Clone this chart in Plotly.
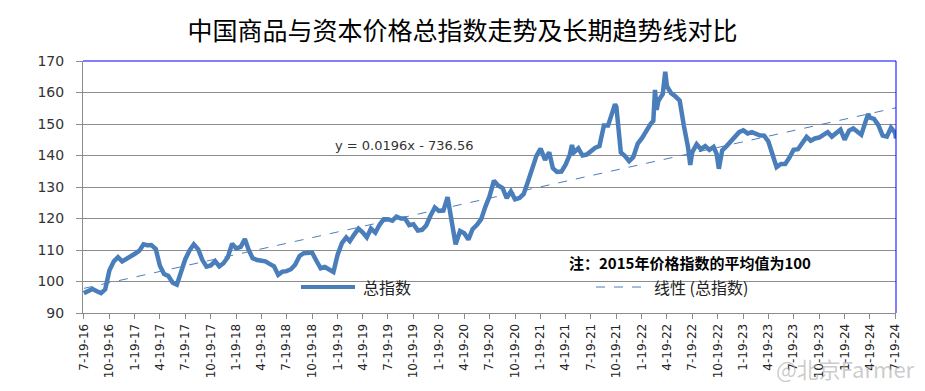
import datetime as dt
import plotly.graph_objects as go

# ---------------- data ----------------
dates = [
    "2016-07-19", "2016-08-04", "2016-08-19", "2016-09-04", "2016-09-19", "2016-10-04", "2016-10-19", "2016-11-04",
    "2016-11-19", "2016-12-04", "2016-12-19", "2017-01-04", "2017-01-19", "2017-02-04", "2017-02-19", "2017-03-04",
    "2017-03-19", "2017-04-04", "2017-04-19", "2017-05-04", "2017-05-19", "2017-06-04", "2017-06-19", "2017-07-04",
    "2017-07-19", "2017-08-04", "2017-08-19", "2017-09-04", "2017-09-19", "2017-10-04", "2017-10-19", "2017-11-04",
    "2017-11-19", "2017-12-04", "2017-12-19", "2018-01-04", "2018-01-19", "2018-02-04", "2018-02-19", "2018-03-04",
    "2018-03-19", "2018-04-04", "2018-04-19", "2018-05-04", "2018-05-19", "2018-06-04", "2018-06-19", "2018-07-04",
    "2018-07-19", "2018-08-04", "2018-08-19", "2018-09-04", "2018-09-19", "2018-10-04", "2018-10-19", "2018-11-04",
    "2018-11-19", "2018-12-04", "2018-12-19", "2019-01-04", "2019-01-19", "2019-02-04", "2019-02-19", "2019-03-04",
    "2019-03-19", "2019-04-04", "2019-04-19", "2019-05-04", "2019-05-19", "2019-06-04", "2019-06-19", "2019-07-04",
    "2019-07-19", "2019-08-04", "2019-08-19", "2019-09-04", "2019-09-19", "2019-10-04", "2019-10-19", "2019-11-04",
    "2019-11-19", "2019-12-04", "2019-12-19", "2020-01-04", "2020-01-19", "2020-02-04", "2020-02-19", "2020-03-04",
    "2020-03-19", "2020-04-04", "2020-04-19", "2020-05-04", "2020-05-19", "2020-06-04", "2020-06-19", "2020-07-04",
    "2020-07-19", "2020-08-04", "2020-08-19", "2020-09-04", "2020-09-19", "2020-10-04", "2020-10-19", "2020-11-04",
    "2020-11-19", "2020-12-04", "2020-12-19", "2021-01-04", "2021-01-19", "2021-02-04", "2021-02-19", "2021-03-04",
    "2021-03-19", "2021-04-04", "2021-04-19", "2021-05-04", "2021-05-12", "2021-05-19", "2021-06-04", "2021-06-19",
    "2021-07-04", "2021-07-19", "2021-08-04", "2021-08-19", "2021-09-04", "2021-09-19", "2021-10-04", "2021-10-14",
    "2021-10-19", "2021-10-24", "2021-11-04", "2021-11-19", "2021-12-04", "2021-12-19", "2022-01-04", "2022-01-19",
    "2022-02-04", "2022-02-19", "2022-03-01", "2022-03-07", "2022-03-13", "2022-03-19", "2022-04-04", "2022-04-13",
    "2022-04-19", "2022-05-04", "2022-05-19", "2022-06-04", "2022-06-19", "2022-07-04", "2022-07-12", "2022-07-19",
    "2022-08-04", "2022-08-19", "2022-09-04", "2022-09-19", "2022-10-04", "2022-10-15", "2022-10-23", "2022-11-04",
    "2022-11-19", "2022-12-04", "2022-12-19", "2023-01-04", "2023-01-19", "2023-02-04", "2023-02-19", "2023-03-04",
    "2023-03-19", "2023-04-04", "2023-04-19", "2023-05-04", "2023-05-19", "2023-06-04", "2023-06-19", "2023-07-04",
    "2023-07-19", "2023-08-04", "2023-08-19", "2023-09-04", "2023-09-19", "2023-10-04", "2023-10-19", "2023-11-04",
    "2023-11-19", "2023-12-04", "2023-12-19", "2024-01-04", "2024-01-19", "2024-02-04", "2024-02-19", "2024-03-04",
    "2024-03-19", "2024-04-04", "2024-04-13", "2024-04-19", "2024-05-04", "2024-05-19", "2024-06-04", "2024-06-19",
    "2024-07-04", "2024-07-19", "2024-07-22",
]

total_index = [
    96.3, 96.8, 97.6, 96.9, 96.3, 97.5, 103.5, 106.4,
    107.7, 106.4, 107.0, 108.0, 108.8, 109.8, 111.8, 111.5,
    111.6, 110.3, 105.0, 102.4, 101.8, 99.6, 99.0, 102.8,
    107.0, 109.9, 111.8, 110.2, 106.8, 104.7, 105.1, 106.5,
    104.8, 105.8, 107.6, 112.0, 110.5, 111.0, 113.5, 110.2,
    107.4, 106.8, 106.7, 106.4, 105.6, 104.8, 102.1, 103.1,
    103.3, 103.9, 105.3, 108.1, 109.0, 109.0, 109.2, 106.5,
    104.2, 104.6, 103.8, 103.0, 108.5, 112.3, 114.0, 112.8,
    114.8, 116.8, 115.6, 114.0, 116.8, 115.5, 118.0, 119.8,
    119.8, 119.3, 120.6, 120.0, 120.0, 117.9, 118.2, 116.2,
    116.4, 117.8, 120.8, 123.5, 122.4, 122.5, 126.8, 120.2,
    111.8, 116.0, 115.3, 113.3, 116.6, 118.0, 119.8, 123.7,
    127.0, 132.0, 130.5, 129.7, 126.5, 128.6, 126.1, 126.5,
    127.8, 131.6, 135.5, 139.9, 142.2, 138.6, 141.0, 136.0,
    134.8, 134.9, 137.1, 140.2, 143.3, 141.0, 142.3, 140.0,
    140.3, 141.6, 142.5, 143.0, 149.5, 149.5, 154.2, 156.3,
    155.4, 151.0, 141.0, 139.8, 138.2, 139.5, 143.8, 145.5,
    148.0, 150.0, 151.0, 160.8, 154.5, 157.3, 159.5, 166.6,
    162.0, 159.8, 158.8, 157.4, 149.5, 142.6, 137.0, 141.0,
    143.6, 142.0, 143.0, 141.8, 142.7, 140.5, 135.8, 141.6,
    142.9, 144.5, 145.9, 147.4, 148.0, 147.0, 147.4, 146.9,
    146.4, 146.3, 144.5, 140.4, 136.3, 137.3, 137.3, 139.3,
    141.8, 142.0, 143.9, 145.9, 144.7, 145.4, 145.7, 146.4,
    147.4, 146.0, 147.1, 148.2, 145.0, 147.9, 148.6, 147.5,
    146.6, 150.9, 153.2, 152.0, 151.6, 149.7, 146.3, 146.0,
    148.8, 147.2, 145.4,
]

tick_labels = [
    "7-19-16", "10-19-16", "1-19-17", "4-19-17", "7-19-17", "10-19-17", "1-19-18", "4-19-18",
    "7-19-18", "10-19-18", "1-19-19", "4-19-19", "7-19-19", "10-19-19", "1-19-20", "4-19-20",
    "7-19-20", "10-19-20", "1-19-21", "4-19-21", "7-19-21", "10-19-21", "1-19-22", "4-19-22",
    "7-19-22", "10-19-22", "1-19-23", "4-19-23", "7-19-23", "10-19-23", "1-19-24", "4-19-24",
    "7-19-24",
]

# linear trend shown on the chart: y = 0.0196x - 736.56 (x = Excel date serial)
trend_slope = 0.0196
trend_intercept = -736.56

title_text = "中国商品与资本价格总指数走势及长期趋势线对比"
series_name = "总指数"
trend_name = "线性 (总指数)"
equation_text = "y = 0.0196x - 736.56"
note_text = "注：2015年价格指数的平均值为100"
watermark_text = "@北京Farmer"

# ---------------- derived ----------------
def label_to_date(lbl):
    m, d, y = lbl.split("-")
    return dt.date(2000 + int(y), int(m), int(d))

tick_vals = [label_to_date(t).isoformat() for t in tick_labels]

excel_epoch = dt.date(1899, 12, 30)
trend_x = [dates[0], dates[-1]]
trend_y = [trend_slope * (dt.date.fromisoformat(d) - excel_epoch).days + trend_intercept for d in trend_x]

# ---------------- figure ----------------
W, H = 925, 391
L, R, T, B = 83, 29, 61, 78
PW, PH = W - L - R, H - T - B

def px(xp):
    return (xp - L) / PW

def py(yp):
    return (H - B - yp) / PH

BLUE = "#4A7EBB"
GRID = "#8C8C8C"
CJK = "Noto Sans CJK SC"

fig = go.Figure()
fig.add_trace(go.Scatter(
    x=dates, y=total_index, mode="lines", name=series_name,
    line=dict(color=BLUE, width=4.5), showlegend=False,
))
fig.add_trace(go.Scatter(
    x=trend_x, y=trend_y, mode="lines", name=trend_name,
    line=dict(color=BLUE, width=1, dash="dash"), showlegend=False,
))

fig.update_layout(
    width=W, height=H,
    margin=dict(l=L, r=R, t=T, b=B, pad=0),
    paper_bgcolor="white", plot_bgcolor="white",
    title=dict(text=title_text, x=0.5, xanchor="center", y=1 - 31 / H, yanchor="middle",
               font=dict(family=CJK, size=25, color="#000000")),
    showlegend=False,
)

fig.update_xaxes(
    type="date", range=["2016-07-16", "2024-07-22"], automargin=False,
    tickmode="array", tickvals=tick_vals, ticktext=tick_labels, tickangle=-90,
    ticks="outside", ticklen=5, tickcolor=GRID, tickwidth=1,
    showline=True, linecolor=GRID, linewidth=1, showgrid=False, zeroline=False,
    tickfont=dict(family="DejaVu Sans", size=12, color="#222222"),
)
fig.update_yaxes(
    range=[90, 170], dtick=10, tick0=90, automargin=False,
    ticks="outside", ticklen=6, tickcolor=GRID, tickwidth=1,
    showline=True, linecolor=GRID, linewidth=1,
    showgrid=True, gridcolor=GRID, gridwidth=1, zeroline=False,
    tickfont=dict(family="DejaVu Sans", size=14, color="#333333"),
    ticklabelstandoff=9,
)

shapes = [
    # blue top and right border of the plot area
    dict(type="line", xref="paper", yref="paper", x0=0, x1=1, y0=1, y1=1,
         line=dict(color="#0000FF", width=1)),
    dict(type="line", xref="paper", yref="paper", x0=1, x1=1, y0=0, y1=1,
         line=dict(color="#0000FF", width=1)),
    # legend samples
    dict(type="line", xref="paper", yref="paper", x0=px(301), x1=px(355), y0=py(287), y1=py(287),
         line=dict(color=BLUE, width=4)),
    dict(type="line", xref="paper", yref="paper", x0=px(596), x1=px(645), y0=py(287), y1=py(287),
         line=dict(color=BLUE, width=1, dash="dash")),
]
fig.update_layout(shapes=shapes)

annotations = [
    dict(text=series_name, x=px(361), y=py(287), xref="paper", yref="paper", xanchor="left",
         yanchor="middle", showarrow=False, font=dict(family=CJK, size=16, color="#222222")),
    dict(text=trend_name, x=px(652), y=py(287), xref="paper", yref="paper", xanchor="left",
         yanchor="middle", showarrow=False, font=dict(family=CJK, size=16, color="#222222")),
    dict(text=equation_text, x=px(404), y=py(145), xref="paper", yref="paper", xanchor="center",
         yanchor="middle", showarrow=False, font=dict(family="DejaVu Sans", size=13, color="#333333")),
    dict(text="<b>" + note_text + "</b>", x=px(690), y=py(262), xref="paper", yref="paper",
         xanchor="center", yanchor="middle", showarrow=False,
         font=dict(family=CJK, size=15, color="#000000")),
    dict(text=watermark_text, x=px(917), y=py(368), xref="paper", yref="paper", xanchor="right",
         yanchor="middle", showarrow=False, font=dict(family=CJK, size=22, color="rgba(170,170,170,0.6)")),
]
fig.update_layout(annotations=annotations)

fig.write_html("out.html", config={"displayModeBar": False},
               post_script="document.body.style.margin='0px';")
